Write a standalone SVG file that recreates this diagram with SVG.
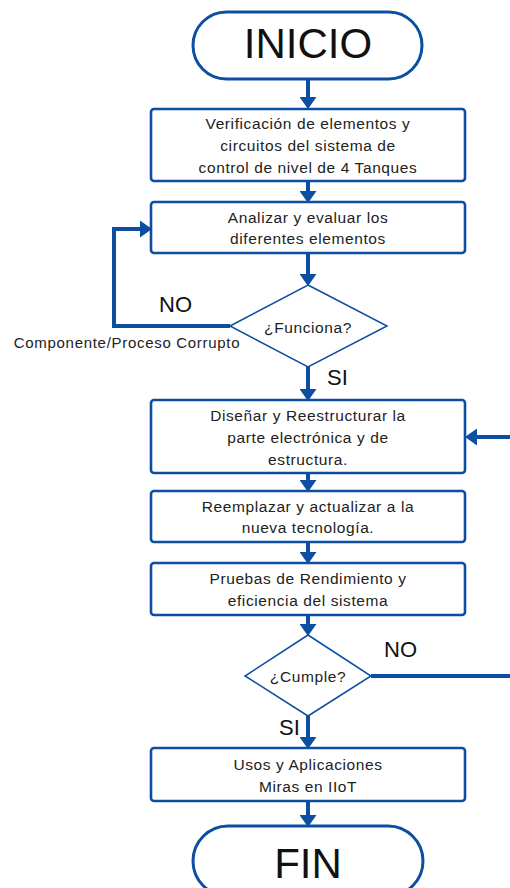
<svg xmlns="http://www.w3.org/2000/svg" width="510" height="888" viewBox="0 0 510 888">
<style>
.box{fill:#fff;stroke:#0B4EA2;stroke-width:2.6}
.term{fill:#fff;stroke:#0B4EA2;stroke-width:3}
.dia{fill:#fff;stroke:#0B4EA2;stroke-width:1.5}
.con{fill:none;stroke:#0B4EA2;stroke-width:4}
.t{font-family:"Liberation Sans",Arial,sans-serif;font-size:15.5px;letter-spacing:0.6px;fill:#222;text-anchor:middle}
.big{font-family:"Liberation Sans",Arial,sans-serif;fill:#111;text-anchor:middle}
.lbl{font-family:"Liberation Sans",Arial,sans-serif;font-size:22px;fill:#111}
</style>
<defs>
<marker id="ah" markerUnits="userSpaceOnUse" markerWidth="12" markerHeight="17" viewBox="0 0 12 17" refX="0" refY="8.5" orient="auto">
<path d="M0,0 L12,8.5 L0,17 z" fill="#0B4EA2"/>
</marker>
</defs>
<g id="connectors">
<path class="con" d="M308,79 V97" marker-end="url(#ah)"/>
<path class="con" d="M308,181 V191" marker-end="url(#ah)"/>
<path class="con" d="M308,253 V274" marker-end="url(#ah)"/>
<path class="con" d="M308,367 V389" marker-end="url(#ah)"/>
<path class="con" d="M308,473 V480" marker-end="url(#ah)"/>
<path class="con" d="M308,542 V552" marker-end="url(#ah)"/>
<path class="con" d="M308,615 V624" marker-end="url(#ah)"/>
<path class="con" d="M308,716 V737" marker-end="url(#ah)"/>
<path class="con" d="M308,801 V815" marker-end="url(#ah)"/>
<path class="con" d="M230,326 H114 V229 H140" marker-end="url(#ah)"/>
<path class="con" d="M510,437 H477" marker-end="url(#ah)"/>
<path class="con" d="M371,676 H510"/>
<text class="lbl" x="159" y="312" font-size="23">NO</text>
<text class="lbl" x="327" y="385">SI</text>
<text class="lbl" x="384" y="657" font-size="23">NO</text>
<text class="lbl" x="279" y="735">SI</text>
<text class="t" x="127" y="348" style="font-size:15px;letter-spacing:0.7px">Componente/Proceso Corrupto</text>
</g>
<g id="inicio">
<rect class="term" x="193" y="12" width="229" height="67" rx="33.5"/>
<text class="big" x="308" y="58" font-size="42">INICIO</text>
</g>
<g id="verificacion">
<rect class="box" x="151" y="109" width="314" height="72" rx="3"/>
<text class="t" x="308" y="129">Verificación de elementos y</text>
<text class="t" x="308" y="151">circuitos del sistema de</text>
<text class="t" x="308" y="173">control de nivel de 4 Tanques</text>
</g>
<g id="analizar">
<rect class="box" x="151" y="202" width="314" height="51" rx="3"/>
<text class="t" x="308" y="223">Analizar y evaluar los</text>
<text class="t" x="308" y="244">diferentes elementos</text>
</g>
<g id="funciona">
<polygon class="dia" points="308,285 387,326 308,367 230,326"/>
<text class="t" x="308" y="333">¿Funciona?</text>
</g>
<g id="disenar">
<rect class="box" x="151" y="400" width="314" height="73" rx="3"/>
<text class="t" x="308" y="421">Diseñar y Reestructurar la</text>
<text class="t" x="308" y="443">parte electrónica y de</text>
<text class="t" x="308" y="465">estructura.</text>
</g>
<g id="reemplazar">
<rect class="box" x="151" y="491" width="314" height="51" rx="3"/>
<text class="t" x="308" y="512">Reemplazar y actualizar a la</text>
<text class="t" x="308" y="533">nueva tecnología.</text>
</g>
<g id="pruebas">
<rect class="box" x="151" y="563" width="314" height="52" rx="3"/>
<text class="t" x="308" y="584">Pruebas de Rendimiento y</text>
<text class="t" x="308" y="606">eficiencia del sistema</text>
</g>
<g id="cumple">
<polygon class="dia" points="308,635 371,676 308,716 245,676"/>
<text class="t" x="308" y="682">¿Cumple?</text>
</g>
<g id="usos">
<rect class="box" x="151" y="748" width="314" height="53" rx="3"/>
<text class="t" x="308" y="770">Usos y Aplicaciones</text>
<text class="t" x="308" y="792">Miras en IIoT</text>
</g>
<g id="fin">
<rect class="term" x="193" y="826" width="230" height="70" rx="35"/>
<text class="big" x="308" y="878" font-size="42">FIN</text>
</g>
</svg>
